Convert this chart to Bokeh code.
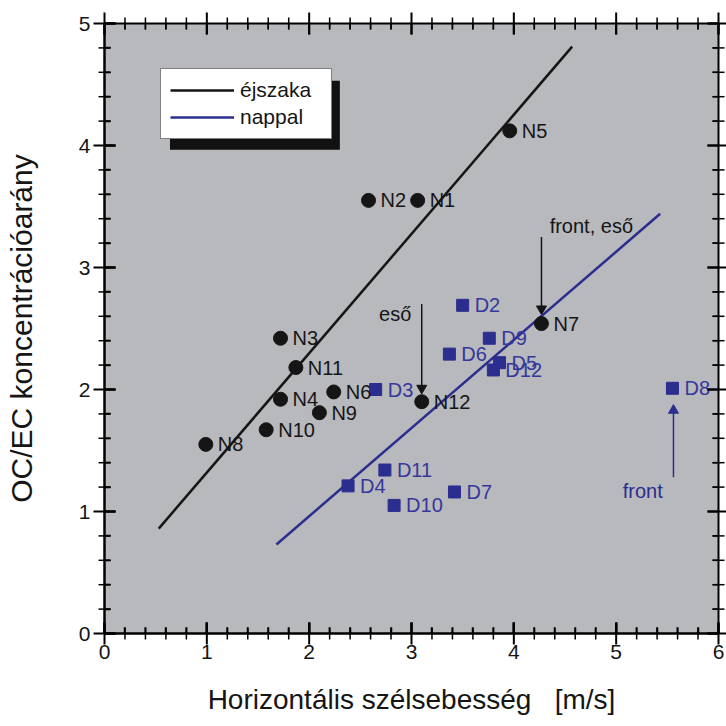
from bokeh.plotting import figure
from bokeh.models import ColumnDataSource, FixedTicker, Range1d, Legend, LegendItem
from bokeh.core.properties import value
from bokeh.embed import file_html
from bokeh.resources import INLINE

FONT = "Liberation Sans"
BLACK = "#151515"
BLUE = "#2b2d8f"
BLUE_TEXT = "#35379c"
PANEL = "#b8b9bd"

X_MIN, X_MAX = 0, 6
Y_MIN, Y_MAX = 0, 5

# Night-time samples (N): wind speed [m/s] and OC/EC ratio
night_names = ["N1", "N2", "N3", "N4", "N5", "N6", "N7", "N8", "N9", "N10", "N11", "N12"]
night_wind = [3.06, 2.58, 1.72, 1.72, 3.96, 2.24, 4.27, 0.99, 2.10, 1.58, 1.87, 3.10]
night_ratio = [3.55, 3.55, 2.42, 1.92, 4.12, 1.98, 2.54, 1.55, 1.81, 1.67, 2.18, 1.90]

# Daytime samples (D)
day_names = ["D2", "D3", "D4", "D5", "D6", "D7", "D8", "D9", "D10", "D11", "D12"]
day_wind = [3.50, 2.65, 2.38, 3.86, 3.37, 3.42, 5.55, 3.76, 2.83, 2.74, 3.80]
day_ratio = [2.69, 2.00, 1.21, 2.22, 2.29, 1.16, 2.01, 2.42, 1.05, 1.34, 2.16]

# Fitted trend lines (end points)
night_fit_x = [0.53, 4.57]
night_fit_y = [0.86, 4.81]
day_fit_x = [1.68, 5.43]
day_fit_y = [0.73, 3.44]

# Annotated events: text, arrow x, arrow start / tip y, text position
note_text = ["eső", "front, eső", "front"]
note_arrow_x = [3.10, 4.27, 5.56]
note_arrow_y0 = [2.70, 3.25, 1.28]
note_arrow_y1 = [1.97, 2.62, 1.87]
note_text_x = [2.84, 4.35, 5.26]
note_text_y = [2.62, 3.34, 1.17]
note_align = ["center", "left", "center"]
note_color = [BLACK, BLACK, BLUE]

# Tick positions: majors every 1, four minors in between
x_major = list(range(X_MIN, X_MAX + 1))
y_major = list(range(Y_MIN, Y_MAX + 1))
x_minor = [m + k / 5 for m in x_major[:-1] for k in range(1, 5)]
y_minor = [m + k / 5 for m in y_major[:-1] for k in range(1, 5)]

FRAME_W, FRAME_H = 614, 610          # plot frame size in pixels
MAJOR_PX, MINOR_PX = 11, 6           # inward tick lengths in pixels
HEAD_PX = 10                         # arrow head size in pixels
ux = (X_MAX - X_MIN) / FRAME_W       # data units per pixel
uy = (Y_MAX - Y_MIN) / FRAME_H

p = figure(width=726, height=726, x_range=Range1d(X_MIN, X_MAX), y_range=Range1d(Y_MIN, Y_MAX),
           output_backend="svg", toolbar_location=None,
           min_border_left=104, min_border_right=8, min_border_top=23, min_border_bottom=93,
           background_fill_color=PANEL, border_fill_color="white",
           outline_line_color="black", outline_line_width=2)
p.xgrid.visible = False
p.ygrid.visible = False

for ax, major, minor in ((p.xaxis[0], x_major, x_minor), (p.yaxis[0], y_major, y_minor)):
    ax.ticker = FixedTicker(ticks=major, minor_ticks=minor)
    ax.level = "overlay"
    ax.axis_line_color = "black"
    ax.axis_line_width = 2
    ax.major_tick_in = MAJOR_PX
    ax.major_tick_out = 0
    ax.minor_tick_in = MINOR_PX
    ax.minor_tick_out = 0
    ax.major_tick_line_color = "black"
    ax.minor_tick_line_color = "black"
    ax.major_tick_line_width = 2
    ax.minor_tick_line_width = 1.5
    ax.major_label_text_font = FONT
    ax.major_label_text_font_size = "21px"
    ax.major_label_text_color = BLACK
    ax.axis_label_text_font = FONT
    ax.axis_label_text_font_style = "normal"
    ax.axis_label_text_color = BLACK

xa = p.xaxis[0]
ya = p.yaxis[0]
xa.axis_label = "Horizontális szélsebesség \u00a0\u00a0[m/s]"
xa.axis_label_text_font_size = "28px"
xa.major_label_standoff = 11
xa.axis_label_standoff = 22
ya.axis_label = "OC/EC koncentrációarány"
ya.axis_label_text_font_size = "30px"
ya.major_label_standoff = 14
ya.axis_label_standoff = 38

# inward tick marks on all four edges of the frame, drawn on top of everything
for ticks, length, width in ((x_major, MAJOR_PX, 2), (x_minor, MINOR_PX, 1.5)):
    n = len(ticks)
    for edge, sign in ((Y_MIN, 1), (Y_MAX, -1)):
        p.segment(x0=ticks, y0=[edge] * n, x1=ticks, y1=[edge + sign * length * uy] * n,
                  line_color="black", line_width=width, level="overlay")
        p.rect(x=ticks, y=[edge] * n, width=width, height=2 * length,
               width_units="screen", height_units="screen",
               fill_color="black", line_color=None, level="overlay")
for ticks, length, width in ((y_major, MAJOR_PX, 2), (y_minor, MINOR_PX, 1.5)):
    n = len(ticks)
    for edge, sign in ((X_MIN, 1), (X_MAX, -1)):
        p.segment(x0=[edge] * n, y0=ticks, x1=[edge + sign * length * ux] * n, y1=ticks,
                  line_color="black", line_width=width, level="overlay")
        p.rect(x=[edge] * n, y=ticks, width=2 * length, height=width,
               width_units="screen", height_units="screen",
               fill_color="black", line_color=None, level="overlay")

# drop shadow of the legend box
p.quad(left=[0.64], right=[2.30], top=[4.53], bottom=[3.965],
       fill_color="#111111", line_color=None)

night_line = p.line(night_fit_x, night_fit_y, line_color=BLACK, line_width=2.5)
day_line = p.line(day_fit_x, day_fit_y, line_color=BLUE, line_width=2.5)

night_src = ColumnDataSource(dict(x=night_wind, y=night_ratio, name=night_names))
day_src = ColumnDataSource(dict(x=day_wind, y=day_ratio, name=day_names))

p.scatter("x", "y", source=day_src, marker="square", size=12,
          fill_color=BLUE, line_color=BLUE)
p.scatter("x", "y", source=night_src, marker="circle", size=14,
          fill_color=BLACK, line_color=BLACK)

p.text("x", "y", text="name", source=night_src, x_offset=12, text_baseline="middle",
       text_font=value(FONT), text_font_size="20px", text_color=BLACK)
p.text("x", "y", text="name", source=day_src, x_offset=12, text_baseline="middle",
       text_font=value(FONT), text_font_size="20px", text_color=BLUE_TEXT)

# event arrows: shaft plus triangular head, and their captions
for i in range(len(note_text)):
    down = note_arrow_y1[i] < note_arrow_y0[i]
    step = -1 if down else 1
    head_y = note_arrow_y1[i] - step * (HEAD_PX / 2) * uy
    p.segment(x0=[note_arrow_x[i]], y0=[note_arrow_y0[i]], x1=[note_arrow_x[i]], y1=[head_y],
              line_color=note_color[i], line_width=1.5)
    p.scatter([note_arrow_x[i]], [head_y], marker="inverted_triangle" if down else "triangle",
              size=HEAD_PX, fill_color=note_color[i], line_color=note_color[i])
    p.text([note_text_x[i]], [note_text_y[i]], text=[note_text[i]],
           text_align=note_align[i], text_baseline="middle",
           text_font=value(FONT), text_font_size="20px", text_color=note_color[i])

legend = Legend(items=[LegendItem(label="éjszaka", renderers=[night_line]),
                       LegendItem(label="nappal", renderers=[day_line])],
                location=(56, 494), padding=9, spacing=3, margin=0,
                glyph_width=64, glyph_height=20, label_standoff=6, label_width=82,
                label_text_font=FONT, label_text_font_size="21px", label_text_color=BLACK,
                border_line_color="black", border_line_width=1.5,
                background_fill_color="white", background_fill_alpha=1.0)
p.add_layout(legend)

open("out.html", "w").write(file_html(p, INLINE))
